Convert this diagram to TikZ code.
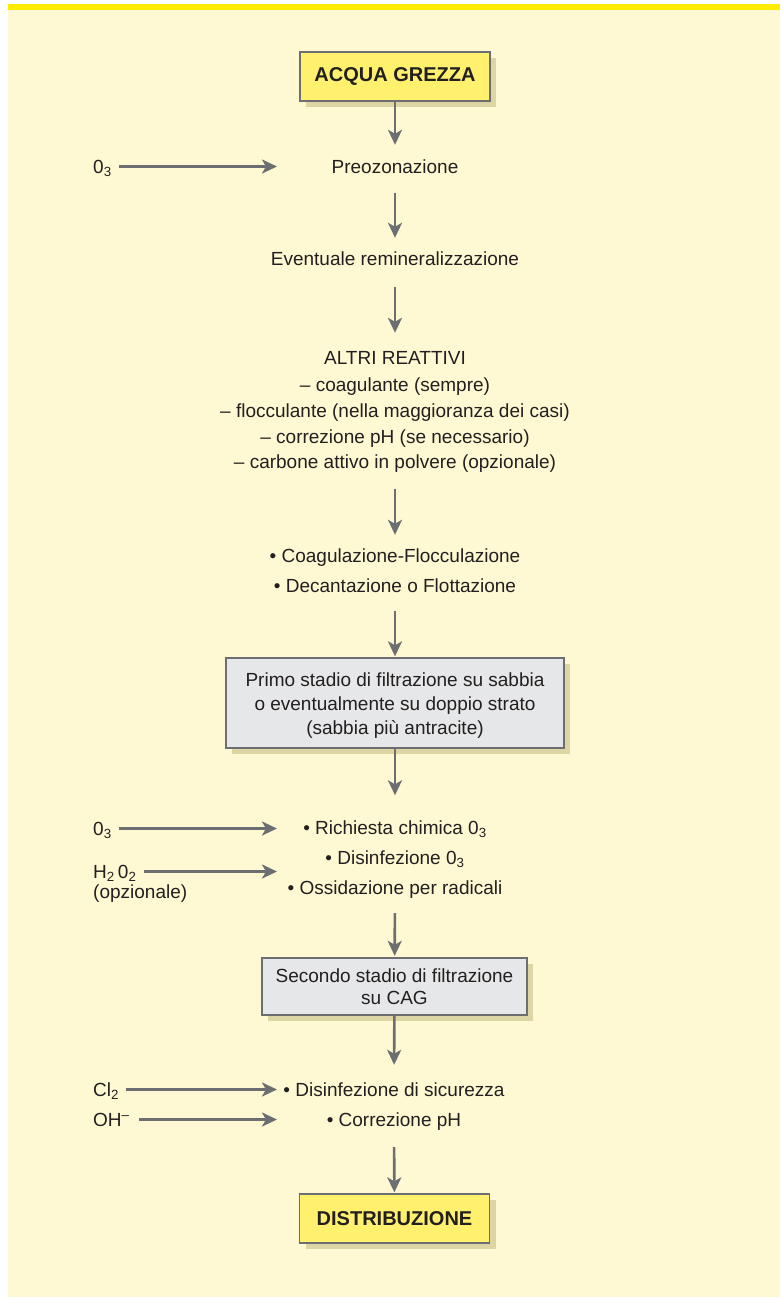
\documentclass[tikz,border=0pt]{standalone}
\usepackage{fontspec}
\setmainfont{Liberation Sans}
\usetikzlibrary{arrows.meta,shadows}

\definecolor{paper}{HTML}{FFF9D3}
\definecolor{band}{HTML}{FFEC00}
\definecolor{ink}{HTML}{231F20}
\definecolor{edge}{HTML}{6D6E71}
\definecolor{yellowbox}{HTML}{FFF16E}
\definecolor{greybox}{HTML}{E6E7E8}
\definecolor{shade}{HTML}{DDD6A4}

\begin{document}
\begin{tikzpicture}[x=1pt,y=-1pt,
  lbl/.style={inner sep=0pt, text height=14pt, text depth=1pt,
    font=\fontsize{19}{22}\selectfont, text=ink},
  steptext/.style={lbl, anchor=base},
  sidetext/.style={lbl, anchor=base west},
  endbox/.style={draw=edge, line width=1.3pt, fill=yellowbox,
    minimum width=190pt, minimum height=49pt, inner sep=0pt,
    font=\fontsize{20}{22}\selectfont\bfseries, text=ink,
    general shadow={fill=shade, shadow xshift=6pt, shadow yshift=-6pt}},
  filterbox/.style={draw=edge, line width=1.3pt, fill=greybox,
    inner sep=0pt, align=center, text=ink,
    general shadow={fill=shade, shadow xshift=6pt, shadow yshift=-6pt}},
  arr/.style={draw=edge, line width=2.6pt,
    -{Stealth[length=15pt,width=14pt,inset=4pt]}}
]
\useasboundingbox (0,0) rectangle (780,1299);
\fill[white] (0,0) rectangle (780,1299);
\fill[paper] (8,4) rectangle (780,1297);
\fill[band] (8,4) rectangle (780,10);

% main column
\node[endbox] (acqua) at (395,76.5) {ACQUA GREZZA};
\node[steptext] (preo) at (395,173) {Preozonazione};
\node[steptext] (remin) at (395,265.5) {Eventuale remineralizzazione};

\node[steptext] (alt1) at (395,364) {ALTRI REATTIVI};
\node[steptext] (alt2) at (395,391) {– coagulante (sempre)};
\node[steptext] (alt3) at (395,417) {– flocculante (nella maggioranza dei casi)};
\node[steptext] (alt4) at (395,443) {– correzione pH (se necessario)};
\node[steptext] (alt5) at (395,468) {– carbone attivo in polvere (opzionale)};

\node[steptext] (coag) at (395,562) {• Coagulazione-Flocculazione};
\node[steptext] (deca) at (395,592) {• Decantazione o Flottazione};

\node[filterbox, minimum width=338pt, minimum height=90pt,
  font=\fontsize{19}{24}\selectfont] (filt1) at (395,703)
  {\rule{0pt}{19pt}Primo stadio di filtrazione su sabbia\\o eventualmente su doppio strato\\(sabbia più antracite)};

\node[steptext] (rich) at (395,834.5) {• Richiesta chimica 0\textsubscript{3}};
\node[steptext] (disO) at (395,864) {• Disinfezione 0\textsubscript{3}};
\node[steptext] (ossi) at (395,894.5) {• Ossidazione per radicali};

\node[filterbox, minimum width=265pt, minimum height=57pt,
  font=\fontsize{19}{22}\selectfont] (filt2) at (394.5,986.5)
  {Secondo stadio di filtrazione\\su CAG};

\node[steptext] (sicu) at (394,1096) {• Disinfezione di sicurezza};
\node[steptext] (corr) at (394,1126) {• Correzione pH};

\node[endbox] (distr) at (394.5,1218.5) {DISTRIBUZIONE};

% reagents fed from the left
\node[sidetext] (ozA) at (93,173) {0\textsubscript{3}};
\node[sidetext] (ozB) at (93,835) {0\textsubscript{3}};
\node[sidetext] (perox) at (93,878) {H\textsubscript{2}\,0\textsubscript{2}};
\node[sidetext] (opz) at (93,898) {(opzionale)};
\node[sidetext] (cloro) at (93,1096) {Cl\textsubscript{2}};
\node[sidetext] (idross) at (93,1126) {OH\textsuperscript{–}};

\coordinate (inA) at (277,166.5);
\coordinate (inB) at (277,828.5);
\coordinate (inC) at (277,871.5);
\coordinate (inD) at (277,1089.5);
\coordinate (inE) at (277,1119.5);

% flow arrows
\draw[arr, shorten >=14pt] (acqua) -- (preo);
\draw[arr, shorten <=19pt, shorten >=13.5pt] (preo) -- (remin);
\draw[arr, shorten <=20.5pt, shorten >=17pt] (remin) -- (alt1);
\draw[arr, shorten <=20pt, shorten >=13pt] (alt5) -- (coag);
\draw[arr, shorten <=18pt, shorten >=1pt] (deca) -- (filt1);
\draw[arr, shorten >=25pt] (filt1) -- (rich);
\draw[arr, shorten <=17.5pt, shorten >=1.5pt] (ossi) -- (filt2);
\draw[arr, shorten >=17pt] (filt2) -- (sicu);
\draw[arr, shorten <=20pt, shorten >=1pt] (corr) -- (distr);

\draw[arr, shorten <=7pt] (ozA.east) -- (inA);
\draw[arr, shorten <=7pt] (ozB.east) -- (inB);
\draw[arr, shorten <=7pt] (perox.east) -- (inC);
\draw[arr, shorten <=7pt] (cloro.east) -- (inD);
\draw[arr, shorten <=9pt] (idross.east) -- (inE);
\end{tikzpicture}
\end{document}
